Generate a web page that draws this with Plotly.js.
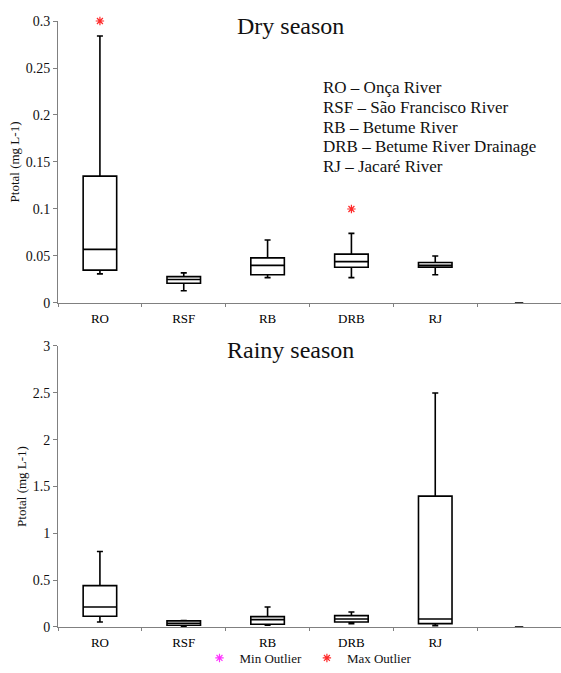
<!DOCTYPE html>
<html>
<head>
<meta charset="utf-8">
<script src="https://cdn.plot.ly/plotly-3.0.1.min.js"></script>
<style>html,body{margin:0;padding:0;background:#fff;}#chart{width:561px;height:673px;}</style>
</head>
<body>
<div id="chart"></div>
<script>
// ---- data ----
const categories = ['RO', 'RSF', 'RB', 'DRB', 'RJ'];
const emptySlot = [' '];
// Dry season
const dryLower  = [0.031, 0.013, 0.027, 0.027, 0.030];
const dryQ1     = [0.035, 0.021, 0.030, 0.038, 0.038];
const dryMedian = [0.057, 0.025, 0.040, 0.044, 0.040];
const dryQ3     = [0.135, 0.028, 0.048, 0.052, 0.043];
const dryUpper  = [0.284, 0.032, 0.067, 0.074, 0.050];
const dryMaxOutlierCats = ['RO', 'DRB'];
const dryMaxOutlierVals = [0.300, 0.100];
const minOutlierCats = ['RO'];
const minOutlierVals = [null]; // no minimum outliers in the chart
// Rainy season
const rainyLower  = [0.053, 0.005, 0.018, 0.036, 0.015];
const rainyQ1     = [0.114, 0.018, 0.029, 0.053, 0.036];
const rainyMedian = [0.214, 0.040, 0.079, 0.086, 0.086];
const rainyQ3     = [0.442, 0.065, 0.111, 0.121, 1.397];
const rainyUpper  = [0.806, 0.070, 0.214, 0.160, 2.498];
const emptySlotValue = [0];
// Labels
const dryTitle = 'Dry season';
const rainyTitle = 'Rainy season';
const yTitle = 'Ptotal (mg L-1)';
const keyLines = ['RO – Onça River', 'RSF – São Francisco River', 'RB – Betume River',
                  'DRB – Betume River Drainage', 'RJ – Jacaré River'];
const minOutlierName = 'Min Outlier';
const maxOutlierName = 'Max Outlier';

const serif = "'Liberation Serif', 'Times New Roman', serif";
const allCats = categories.concat(emptySlot);

function boxTrace(lo, q1, med, q3, hi, xa, ya) {
  return {
    type: 'box', x: categories, lowerfence: lo, q1: q1, median: med, q3: q3, upperfence: hi,
    xaxis: xa, yaxis: ya, width: 0.4, whiskerwidth: 0.18, boxpoints: false,
    fillcolor: 'white', line: {color: 'black', width: 1.6}, showlegend: false, hoverinfo: 'skip'
  };
}
function dashTrace(xa, ya) {
  return {
    type: 'scatter', mode: 'markers', x: emptySlot, y: emptySlotValue, xaxis: xa, yaxis: ya,
    marker: {symbol: 'line-ew', size: 6, line: {color: '#333', width: 2}}, cliponaxis: false,
    showlegend: false, hoverinfo: 'skip'
  };
}

const traces = [
  boxTrace(dryLower, dryQ1, dryMedian, dryQ3, dryUpper, 'x', 'y'),
  boxTrace(rainyLower, rainyQ1, rainyMedian, rainyQ3, rainyUpper, 'x2', 'y2'),
  dashTrace('x', 'y'),
  dashTrace('x2', 'y2'),
  {
    type: 'scatter', mode: 'markers', name: minOutlierName, x: minOutlierCats, y: minOutlierVals,
    xaxis: 'x', yaxis: 'y',
    marker: {symbol: 'asterisk-open', size: 7, color: '#ff33ff', line: {color: '#ff33ff', width: 1.2}},
    showlegend: true
  },
  {
    type: 'scatter', mode: 'markers', name: maxOutlierName, x: dryMaxOutlierCats, y: dryMaxOutlierVals,
    xaxis: 'x', yaxis: 'y', cliponaxis: false,
    marker: {symbol: 'asterisk-open', size: 7, color: '#ff2a2a', line: {color: '#ff2a2a', width: 1.2}},
    showlegend: true
  }
];

function xAxis(anchor) {
  return {
    type: 'category', categoryorder: 'array', categoryarray: allCats, range: [-0.5, 5.5],
    anchor: anchor, tickson: 'boundaries', ticks: 'outside', ticklen: 3, tickcolor: '#808080',
    ticklabelstandoff: 3,
    showline: true, linecolor: '#808080', linewidth: 1, showgrid: false, zeroline: false,
    tickfont: {family: serif, size: 13, color: '#000'}, fixedrange: true, automargin: false
  };
}
function yAxis(domain, range, dtick, anchor) {
  return {
    domain: domain, range: range, dtick: dtick, anchor: anchor, ticks: 'outside', ticklen: 4,
    tickcolor: '#808080', showline: true, linecolor: '#808080', linewidth: 1, showgrid: false,
    zeroline: false, tickfont: {family: serif, size: 14, color: '#111'}, automargin: false,
    title: {text: yTitle, font: {family: serif, size: 13, color: '#111'}, standoff: 3}
  };
}

const annotations = [
  {text: dryTitle, xref: 'paper', yref: 'paper', x: 0.4623, y: 0.9917, xanchor: 'center', yanchor: 'middle',
   showarrow: false, font: {family: serif, size: 24, color: '#111'}},
  {text: rainyTitle, xref: 'paper', yref: 'paper', x: 0.4623, y: 0.457, xanchor: 'center', yanchor: 'middle',
   showarrow: false, font: {family: serif, size: 24, color: '#111'}}
];
const keyY = [88, 107.5, 127, 147, 166.5];
keyLines.forEach((t, i) => {
  annotations.push({text: t, xref: 'paper', yref: 'paper', x: (321 - 58) / 503, y: (627 - keyY[i]) / 606,
    xanchor: 'left', yanchor: 'middle', showarrow: false, align: 'left',
    font: {family: serif, size: 17, color: '#111'}});
});

const layout = {
  width: 561, height: 673,
  margin: {l: 58, r: 0, t: 21, b: 46, autoexpand: false},
  paper_bgcolor: 'white', plot_bgcolor: 'white',
  xaxis: xAxis('y'),
  yaxis: yAxis([0.5347, 1], [0, 0.3], 0.05, 'x'),
  xaxis2: xAxis('y2'),
  yaxis2: yAxis([0, 0.4637], [0, 3], 0.5, 'x2'),
  showlegend: true,
  legend: {orientation: 'h', xref: 'container', yref: 'container', x: 0.549, xanchor: 'center',
           y: 0, yanchor: 'bottom',
           font: {family: serif, size: 13, color: '#111'}, itemwidth: 30, tracegroupgap: 0,
           bgcolor: 'rgba(0,0,0,0)'},
  annotations: annotations
};

Plotly.newPlot('chart', traces, layout, {displayModeBar: false, staticPlot: true});
</script>
</body>
</html>
